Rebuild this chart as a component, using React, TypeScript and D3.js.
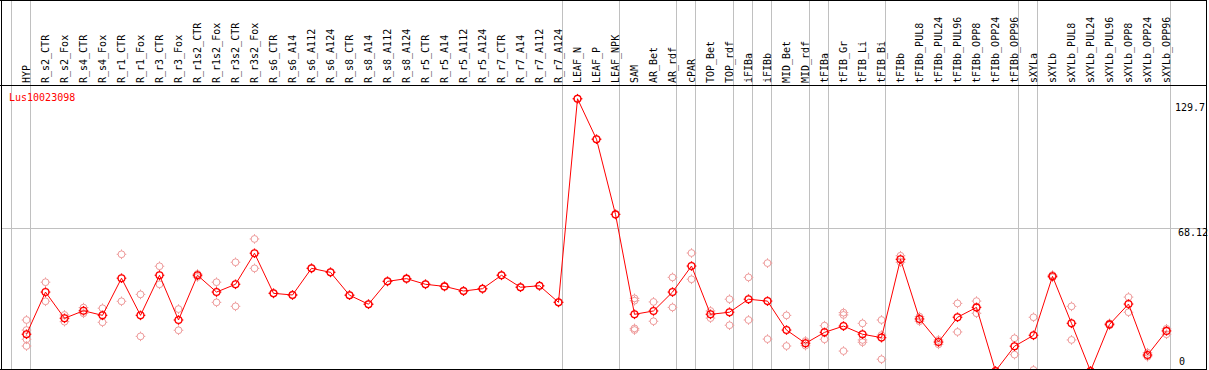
import React from "react";
import * as d3 from "d3";

const categories = [
  "HYP", "R_s2_CTR", "R_s2_Fox", "R_s4_CTR", "R_s4_Fox", "R_r1_CTR", "R_r1_Fox", "R_r3_CTR", "R_r3_Fox",
  "R_r1s2_CTR", "R_r1s2_Fox", "R_r3s2_CTR", "R_r3s2_Fox", "R_s6_CTR", "R_s6_A14", "R_s6_A112", "R_s6_A124",
  "R_s8_CTR", "R_s8_A14", "R_s8_A112", "R_s8_A124", "R_r5_CTR", "R_r5_A14", "R_r5_A112", "R_r5_A124",
  "R_r7_CTR", "R_r7_A14", "R_r7_A112", "R_r7_A124", "LEAF_N", "LEAF_P", "LEAF_NPK", "SAM", "AR_Bet", "AR_rdf",
  "cPAR", "TOP_Bet", "TOP_rdf", "iFIBa", "iFIBb", "MID_Bet", "MID_rdf", "tFIBa", "tFIB_Gr", "tFIB_Li", "tFIB_Bi",
  "tFIBb", "tFIBb_PUL8", "tFIBb_PUL24", "tFIBb_PUL96", "tFIBb_OPP8", "tFIBb_OPP24", "tFIBb_OPP96",
  "sXYLa", "sXYLb", "sXYLb_PUL8", "sXYLb_PUL24", "sXYLb_PUL96", "sXYLb_OPP8", "sXYLb_OPP24", "sXYLb_OPP96",
];

const meanValues = [
  17.5, 37.6, 25.1, 28.7, 26.5, 44.2, 26.5, 45.6, 24.3,
  45.6, 37.6, 41.3, 56.1, 37.0, 36.2, 48.9, 47.0,
  36.1, 31.8, 42.7, 44.0, 41.3, 40.3, 38.1, 39.2,
  45.6, 39.9, 40.6, 32.7, 129.7, 110.4, 74.6, 27.0, 28.6, 37.6,
  50.0, 27.0, 28.0, 34.2, 33.3, 19.5, 13.2, 18.4, 21.4, 17.5, 15.9,
  53.2, 24.8, 13.8, 25.6, 30.3, 0, 11.8,
  17.0, 45.1, 22.7, 0, 22.2, 31.9, 7.6, 19.1,
];

const replicateValues: number[][] = [
  [24.3, 19.5, 15.1, 11.9], [42.3, 33.2], [26.7, 23.5], [30.2, 27.5], [29.9, 23.2], [55.6, 33.2], [36.5, 16.5], [49.9, 41.3], [29.5, 19.4],
  [46.2, 44.8], [42.3, 32.7], [51.8, 30.8], [62.9, 48.9], [37.0, 37.0], [36.2, 36.2], [48.9, 48.9], [47.0, 47.0],
  [36.1, 36.1], [31.8, 31.8], [42.7, 42.7], [44.0, 44.0], [41.3, 41.3], [40.3, 40.3], [38.1, 38.1], [39.2, 39.2],
  [45.6, 45.6], [39.9, 39.9], [40.6, 40.6], [32.7, 32.7], [129.7], [110.4], [74.6], [34.6, 33.5, 20.3, 19.5], [32.9, 23.7], [44.6, 30.3],
  [56.2, 43.7], [28.6, 25.2], [34.2, 21.8], [44.6, 24.3], [51.4, 15.2], [26.5, 11.9], [14.3, 12.1], [21.6, 15.1], [27.8, 26.7, 9.5], [22.7, 14.8, 13.7], [24.3, 17.1, 5.6],
  [54.9, 51.8], [25.9, 23.7], [14.8, 12.7], [32.2, 18.6], [33.3, 27.5], [0, 0], [15.6, 7.8],
  [25.6, 0.5], [45.7, 44.6], [30.8, 14.8], [0, 0], [22.7, 21.8], [35.2, 28.0], [8.7, 6.8], [20.1, 17.5],
];

const groupStarts = [
  "HYP", "R_s2_CTR", "LEAF_N", "SAM", "cPAR", "TOP_Bet", "iFIBa", "iFIBb", "MID_Bet", "tFIBa", "tFIB_Gr", "tFIBb", "sXYLa", "sXYLb",
];

const axisLabels = [
  { value: 129.7, text: "129.7", dx: 1175 },
  { value: 68.12, text: "68.12", dx: 1178 },
  { value: 0, text: "0", dx: 1179 },
];

const gridValue = 68.12;
const geneLabel = "Lus10023098";
const yMax = 136.24;

const W = 1209;
const H = 370;
const FONT = "'DejaVu Sans Mono', 'Liberation Mono', monospace";

function Marker({ cx, cy, color, sw }: { cx: number; cy: number; color: string; sw: number }) {
  const r = 3.4;
  const t = 1.4;
  return (
    <g stroke={color} strokeWidth={sw} fill="none">
      <circle cx={cx} cy={cy} r={r} />
      <line x1={cx} y1={cy - r} x2={cx} y2={cy - r - t} />
      <line x1={cx} y1={cy + r} x2={cx} y2={cy + r + t} />
      <line x1={cx - r} y1={cy} x2={cx - r - t} y2={cy} />
      <line x1={cx + r} y1={cy} x2={cx + r + t} y2={cy} />
    </g>
  );
}

export default function App() {
  const x = d3.scaleBand<string>().domain(categories).range([11, 11 + 19 * categories.length]).paddingInner(0).paddingOuter(0);
  const px = (c: string) => (x(c) as number) + 15.5;
  const y = d3.scaleLinear().domain([0, yMax]).range([371, 85]);

  const line = d3
    .line<number>()
    .x((_, i) => px(categories[i]))
    .y((d) => y(d));

  const boundaries = [...groupStarts.map((g) => x(g) as number), x.range()[1]];

  return (
    <svg
      width={W}
      height={H}
      style={{ position: "absolute", left: 0, top: 0, background: "#fff" }}
    >
      <defs>
        <clipPath id="plotclip">
          <rect x={2} y={86} width={1204} height={283} />
        </clipPath>
      </defs>
      <rect x={0} y={0} width={W} height={H} fill="#fff" />
      {boundaries.map((b, i) => (
        <line key={i} x1={b + 0.5} x2={b + 0.5} y1={0} y2={369} stroke="#c0c0c0" strokeWidth={1} shapeRendering="crispEdges" />
      ))}
      <line x1={1} x2={1206} y1={Math.round(y(gridValue)) + 0.5} y2={Math.round(y(gridValue)) + 0.5} stroke="#c0c0c0" strokeWidth={1} shapeRendering="crispEdges" />

      {categories.map((c) => {
        const lx = px(c) + 3.5;
        return (
          <text
            key={c}
            transform={`translate(${lx},83) rotate(-90)`}
            fontFamily={FONT}
            fontSize={10}
            fill="#000"
          >
            {c}
          </text>
        );
      })}

      {axisLabels.map((a) => (
        <text key={a.text} x={a.dx} y={a.value === 0 ? 365 : y(a.value) + (a.value > 100 ? 12 : 8)} fontFamily={FONT} fontSize={10} fill="#000">
          {a.text}
        </text>
      ))}

      <text x={9} y={101} fontFamily={FONT} fontSize={10} fill="#ff0000">
        {geneLabel}
      </text>

      <g clipPath="url(#plotclip)">
        {replicateValues.map((reps, i) =>
          reps.map((v, j) => <Marker key={`${i}-${j}`} cx={px(categories[i])} cy={y(v)} color="#ee9a9a" sw={1} />)
        )}
        <path d={line(meanValues) || ""} fill="none" stroke="#ff0000" strokeWidth={1} />
        {meanValues.map((v, i) => (
          <Marker key={i} cx={px(categories[i])} cy={y(v)} color="#ff0000" sw={1.3} />
        ))}
      </g>

      <line x1={0} x2={1207} y1={0.5} y2={0.5} stroke="#000" strokeWidth={1} shapeRendering="crispEdges" />
      <line x1={0} x2={1207} y1={85.5} y2={85.5} stroke="#000" strokeWidth={1} shapeRendering="crispEdges" />
      <line x1={0} x2={1207} y1={369.5} y2={369.5} stroke="#000" strokeWidth={1} shapeRendering="crispEdges" />
      <line x1={1.5} x2={1.5} y1={0} y2={370} stroke="#000" strokeWidth={1} shapeRendering="crispEdges" />
      <line x1={1206.5} x2={1206.5} y1={0} y2={370} stroke="#000" strokeWidth={1} shapeRendering="crispEdges" />
    </svg>
  );
}
